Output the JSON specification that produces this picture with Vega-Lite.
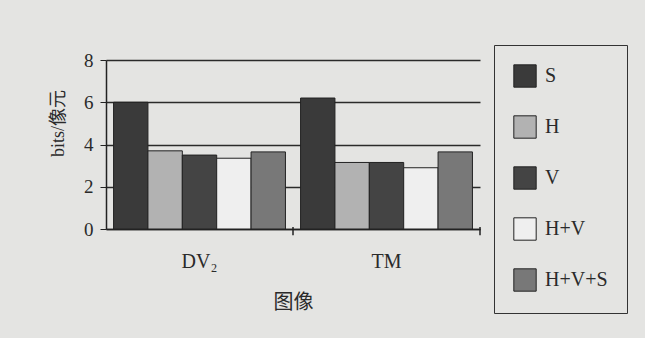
{
  "$schema": "https://vega.github.io/schema/vega-lite/v6.json",
  "width": 374,
  "height": 169,
  "autosize": {"type": "none"},
  "padding": {"left": 106, "top": 60, "right": 165, "bottom": 109},
  "background": "#e4e4e2",
  "config": {"view": {"stroke": null}, "font": "Liberation Serif"},
  "data": {
    "values": [
      {"image": "DV₂", "method": "S", "value": 6.0},
      {"image": "DV₂", "method": "H", "value": 3.7},
      {"image": "DV₂", "method": "V", "value": 3.5},
      {"image": "DV₂", "method": "H+V", "value": 3.35},
      {"image": "DV₂", "method": "H+V+S", "value": 3.65},
      {"image": "TM", "method": "S", "value": 6.2},
      {"image": "TM", "method": "H", "value": 3.15},
      {"image": "TM", "method": "V", "value": 3.15},
      {"image": "TM", "method": "H+V", "value": 2.9},
      {"image": "TM", "method": "H+V+S", "value": 3.65}
    ]
  },
  "layer": [
    {
      "mark": {"type": "bar", "stroke": "#222222", "strokeWidth": 1},
      "encoding": {
        "x": {
          "field": "image", "type": "nominal", "sort": ["DV₂", "TM"],
          "scale": {"paddingInner": 0, "paddingOuter": 0},
          "axis": {
            "labelAngle": 0, "ticks": false, "domainColor": "#222222", "domainWidth": 1.5,
            "labelFontSize": 20, "labelColor": "#2a2a2a", "labelPadding": 22,
            "title": "图像", "titleFont": "Liberation Serif, Noto Sans CJK SC", "titleFontSize": 20,
            "titleFontWeight": "normal", "titleColor": "#2a2a2a", "titleBaseline": "middle", "titleY": 73
          }
        },
        "xOffset": {
          "field": "method", "type": "nominal", "sort": ["S", "H", "V", "H+V", "H+V+S"],
          "scale": {"paddingInner": 0, "paddingOuter": 0.22}
        },
        "y": {
          "field": "value", "type": "quantitative",
          "scale": {"domain": [0, 8]},
          "axis": {
            "values": [0, 2, 4, 6, 8], "grid": true, "gridColor": "#2a2a2a", "gridWidth": 1.3,
            "domainColor": "#222222", "domainWidth": 1.5, "tickColor": "#222222", "tickSize": 6,
            "labelFontSize": 19, "labelColor": "#2a2a2a", "labelPadding": 7,
            "title": "bits/像元", "titleFont": "Liberation Serif, Noto Sans CJK SC", "titleFontSize": 18,
            "titleFontWeight": "normal", "titleColor": "#2a2a2a", "titleX": -48, "titleY": 63,
            "titleAlign": "center", "titleBaseline": "middle"
          }
        },
        "fill": {
          "field": "method", "type": "nominal",
          "sort": ["S", "H", "V", "H+V", "H+V+S"],
          "scale": {
            "domain": ["S", "H", "V", "H+V", "H+V+S"],
            "range": ["#3a3a3a", "#b2b2b2", "#444444", "#efefef", "#787878"]
          },
          "legend": {
            "orient": "none", "legendX": 388, "legendY": -15, "title": null,
            "symbolType": "square", "symbolSize": 500, "symbolStrokeColor": "#222222", "symbolStrokeWidth": 1,
            "labelFontSize": 20, "labelColor": "#2a2a2a", "labelOffset": 8,
            "rowPadding": 23, "padding": 19, "strokeColor": "#333333"
          }
        }
      }
    },
    {
      "data": {"values": [{"image": "DV₂"}, {"image": "TM"}]},
      "mark": {"type": "rule", "color": "#222222", "strokeWidth": 1.5, "clip": false},
      "encoding": {
        "x": {"field": "image", "type": "nominal", "sort": ["DV₂", "TM"], "bandPosition": 1},
        "y": {"datum": 0.1},
        "y2": {"datum": -0.3}
      }
    }
  ]
}
